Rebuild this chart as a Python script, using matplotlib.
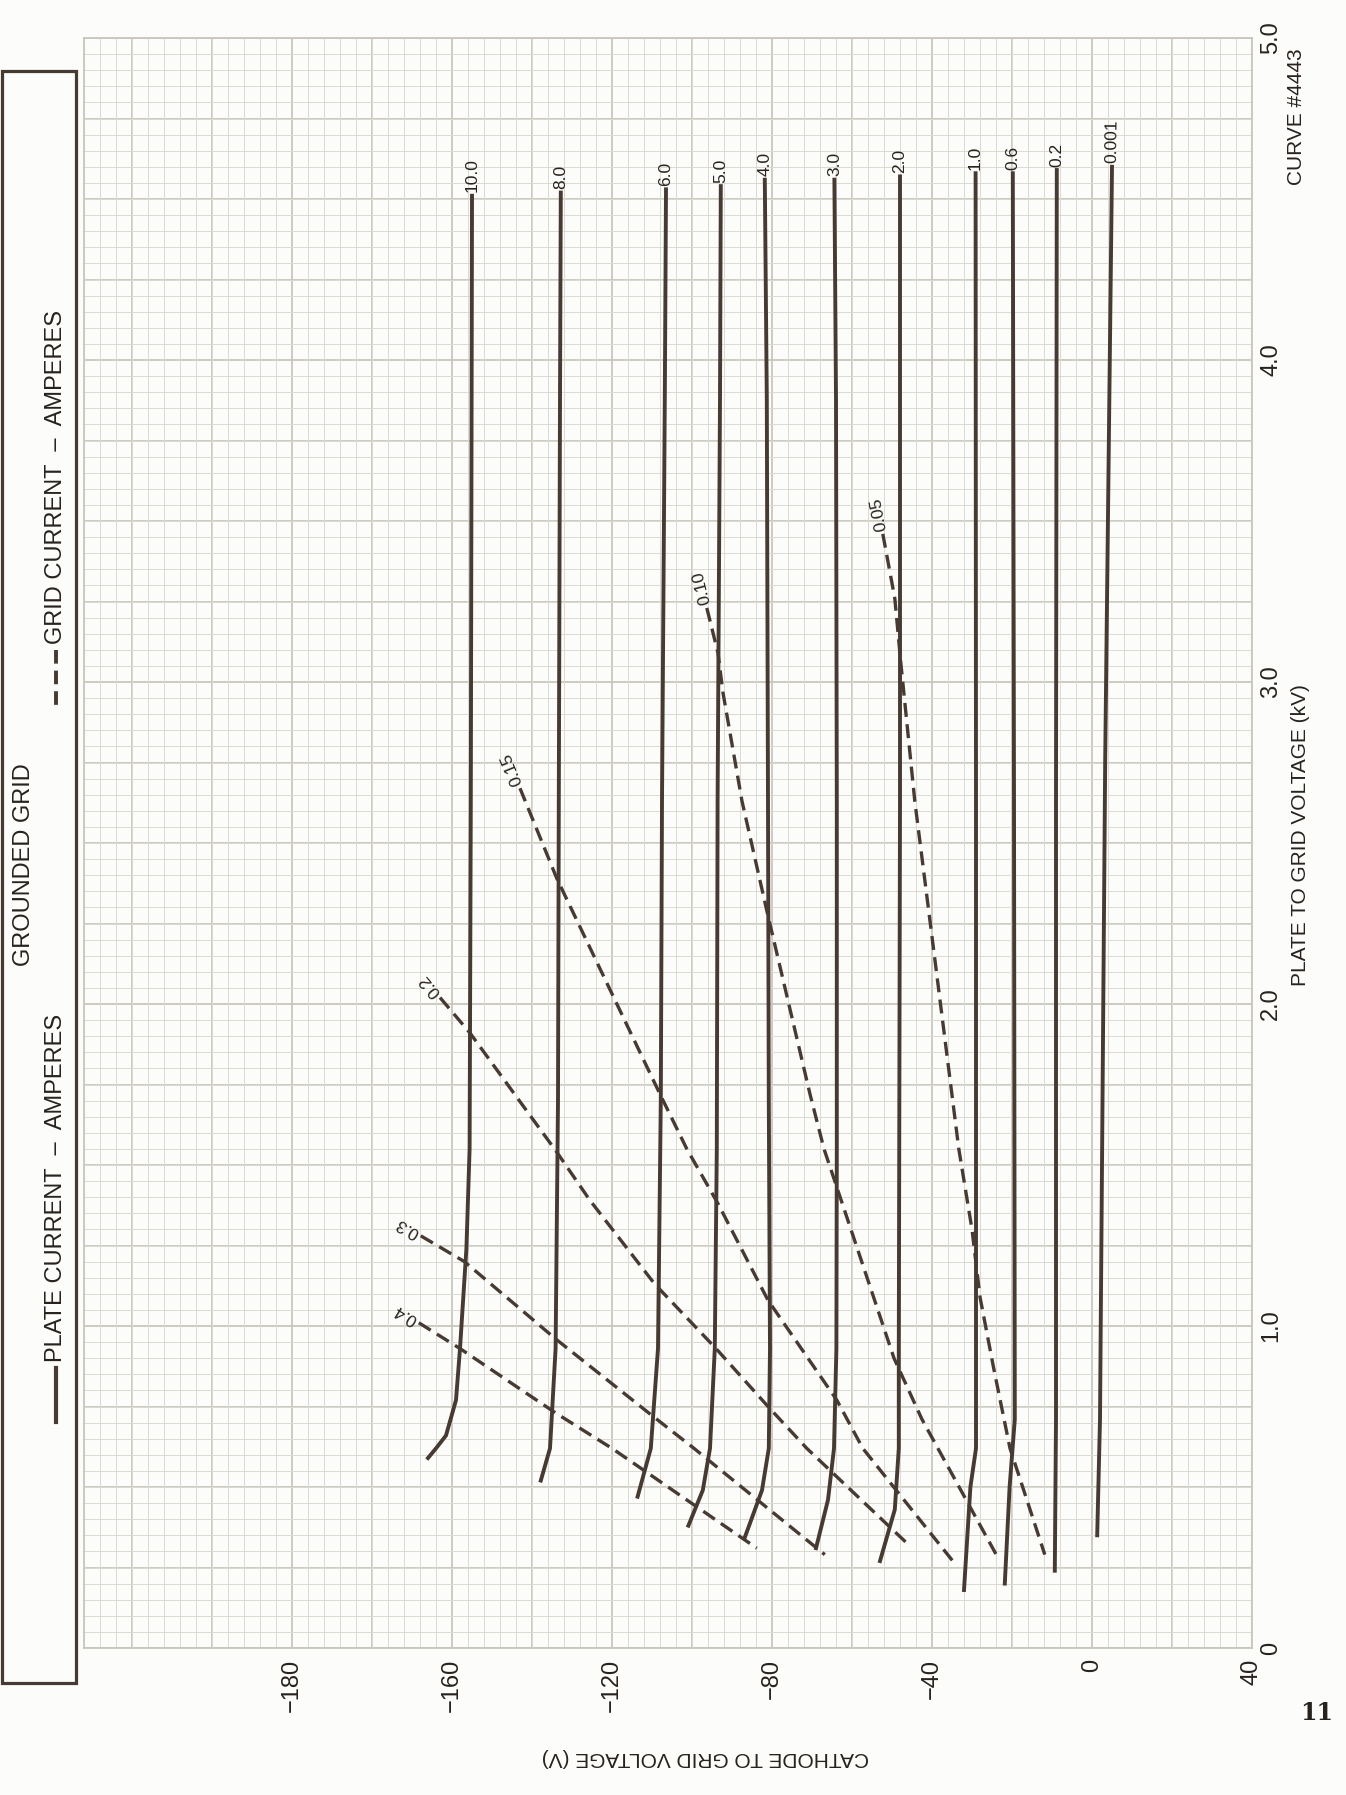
import numpy as np
import matplotlib
matplotlib.use('Agg')
from matplotlib import pyplot as plt
from matplotlib.patches import Rectangle

# plate current curves (amperes): plate to grid kV -> cathode to grid V
plate_labels = ['10.0', '8.0', '6.0', '5.0', '4.0', '3.0', '2.0', '1.0', '0.6', '0.2', '0.001']
plate_v = [
	[-155.0, -155.1, -155.3, -155.6, -156.4, -158.0, -159.0, -161.5, -164.0, -166.0],
	[-132.8, -133.0, -133.3, -133.5, -134.1, -135.5, -137.8],
	[-106.5, -106.8, -107.5, -107.8, -108.5, -110.3, -113.6],
	[-92.8, -93.0, -93.6, -93.8, -94.3, -95.5, -97.3, -100.9],
	[-81.8, -81.3, -81.0, -80.8, -80.5, -80.8, -82.5, -86.9],
	[-64.4, -64.0, -63.8, -63.8, -63.9, -64.5, -66.0, -69.0],
	[-48.0, -48.0, -48.3, -48.3, -49.3, -53.0],
	[-29.1, -29.0, -29.0, -29.0, -30.4, -32.0],
	[-19.8, -19.5, -19.3, -20.6, -21.8],
	[-8.8, -9.0, -9.0, -9.3],
	[5.0, 3.3, 2.0, 1.3],
]
plate_kv = [
	[4.51, 3.88, 2.63, 1.55, 1.24, 0.93, 0.77, 0.66, 0.62, 0.59],
	[4.52, 3.88, 2.63, 1.70, 0.93, 0.62, 0.52],
	[4.53, 3.88, 2.63, 1.70, 0.93, 0.62, 0.47],
	[4.54, 3.88, 2.63, 1.55, 0.93, 0.62, 0.49, 0.38],
	[4.56, 3.88, 2.63, 1.70, 0.93, 0.62, 0.49, 0.34],
	[4.56, 3.88, 2.63, 1.55, 0.93, 0.62, 0.46, 0.31],
	[4.57, 2.63, 0.93, 0.62, 0.43, 0.27],
	[4.58, 2.63, 0.93, 0.62, 0.50, 0.18],
	[4.58, 2.63, 0.71, 0.50, 0.20],
	[4.59, 2.63, 0.71, 0.24],
	[4.60, 2.76, 0.71, 0.35],
]

# grid current curves (amperes)
grid_labels = ['0.4', '0.3', '0.2', '0.15', '0.10', '0.05']
grid_v = [
	[-168.3, -158.0, -134.1, -120.0, -83.8],
	[-167.8, -156.9, -134.1, -109.8, -99.5, -66.8],
	[-163.0, -155.5, -133.8, -125.5, -109.3, -94.0, -81.0, -71.3, -45.8],
	[-143.0, -133.8, -108.0, -101.3, -93.5, -81.0, -63.8, -57.3, -34.8],
	[-96.3, -93.5, -92.3, -87.5, -81.3, -70.5, -67.0, -49.5, -42.5, -23.5],
	[-52.3, -49.3, -47.8, -44.3, -39.3, -33.3, -30.0, -28.0, -24.6, -20.5, -11.8],
]
grid_kv = [
	[1.01, 0.93, 0.73, 0.62, 0.31],
	[1.28, 1.20, 0.96, 0.72, 0.62, 0.29],
	[2.02, 1.91, 1.54, 1.39, 1.13, 0.93, 0.75, 0.62, 0.32],
	[2.67, 2.39, 1.72, 1.55, 1.38, 1.08, 0.77, 0.62, 0.27],
	[3.23, 3.09, 2.97, 2.63, 2.29, 1.72, 1.55, 0.90, 0.71, 0.28],
	[3.46, 3.26, 3.06, 2.63, 2.14, 1.55, 1.30, 1.09, 0.87, 0.62, 0.29],
]

xtick_vals = [-200, -160, -120, -80, -40, 0, 40]
xtick_text = ['\u2212180', '\u2212160', '\u2212120', '\u221280', '\u221240', '0', '40']
ytick_vals = [0, 1, 2, 3, 4, 5]
ytick_text = ['0', '1.0', '2.0', '3.0', '4.0', '5.0']

plt.rcParams['font.family'] = ['Liberation Sans', 'DejaVu Sans']

ink = '#463a32'
txt_c = '#27221e'
paper = '#fcfcfa'
minor_c = '#dbdad2'
major_c = '#c8c6bd'

W, H = 1346, 1795
fig = plt.figure(figsize=(W/100, H/100), dpi=100, facecolor=paper)

# plot area in pixels
L, R, T, B = 84, 1252, 38, 1648
ax = fig.add_axes([L/W, (H-B)/H, (R-L)/W, (B-T)/H])
ax.set_facecolor(paper)
ax.set_xlim(-252, 40)
ax.set_ylim(0, 5)

# graph paper
ax.set_xticks(np.arange(-252, 41, 4), minor=True)
ax.set_yticks(np.arange(0, 5.001, 0.05), minor=True)
ax.grid(which='minor', color=minor_c, lw=0.7, zorder=0)
ax.grid(which='major', visible=False)
ax.vlines(np.arange(-240, 41, 20), 0, 5, color=major_c, lw=1.3, zorder=0.5)
ax.hlines(np.arange(0, 5.001, 0.25), -252, 40, color=major_c, lw=1.3, zorder=0.5)
for s in ax.spines.values():
	s.set_color(major_c)
	s.set_linewidth(1.3)

ax.set_xticks(xtick_vals, labels=xtick_text)
ax.set_yticks(ytick_vals, labels=ytick_text)
ax.yaxis.tick_right()
ax.tick_params(which='both', length=0, colors=txt_c)
ax.tick_params(axis='x', labelrotation=90, pad=8, labelsize=17)
ax.tick_params(axis='y', labelrotation=90, pad=6, labelsize=17)
for t in ax.get_yticklabels():
	t.set_va('center')

ax.set_xlabel('CATHODE TO GRID VOLTAGE (V)', rotation=180, fontsize=15, color=txt_c)
ax.xaxis.set_label_coords((705-L)/(R-L), (B-1758)/(B-T))
ax.xaxis.label.set_va('center')
ax.yaxis.set_label_position('right')
ax.set_ylabel('PLATE TO GRID VOLTAGE (kV)', rotation=90, fontsize=15, color=txt_c)
ax.yaxis.set_label_coords((1300-L)/(R-L), (B-835)/(B-T))
ax.yaxis.label.set_va('center')

def put_label(txt, v, kv):
	p0 = ax.transData.transform((v[0], kv[0]))
	p1 = ax.transData.transform((v[1], kv[1]))
	ang = np.degrees(np.arctan2(p0[1]-p1[1], p0[0]-p1[0]))
	off = 2.5
	ax.annotate(txt, (v[0], kv[0]),
		xytext=(off*np.cos(np.radians(ang)), off*np.sin(np.radians(ang))),
		textcoords='offset points', rotation=ang, rotation_mode='anchor',
		ha='left', va='center', fontsize=12.5, color=txt_c, zorder=5)

for lab, v, kv in zip(plate_labels, plate_v, plate_kv):
	ax.plot(v, kv, color=ink, lw=2.8, solid_joinstyle='round', zorder=3)
	put_label(lab, v, kv)

for lab, v, kv in zip(grid_labels, grid_v, grid_kv):
	ax.plot(v, kv, color=ink, lw=2.4, dashes=(4.2, 2.2), zorder=3)
	put_label(lab, v, kv)

# legend box and page text, pixel coords
ov = fig.add_axes([0, 0, 1, 1])
ov.set_xlim(0, W)
ov.set_ylim(H, 0)
ov.axis('off')
ov.patch.set_alpha(0)
ov.add_patch(Rectangle((2, 71), 74, 1612, fill=False, lw=2.3, ec=ink))
ov.text(24, 865, 'GROUNDED GRID', rotation=90, ha='center', va='center', fontsize=17, color=txt_c)
ov.plot([56, 56], [650, 708], color=ink, lw=2.8, dashes=(3.5, 1.8))
ov.text(56, 644, 'GRID CURRENT  \u2013  AMPERES', rotation=90, ha='center', va='bottom', fontsize=17, color=txt_c)
ov.plot([56, 56], [1368, 1422], color=ink, lw=3)
ov.text(56, 1362, 'PLATE CURRENT  \u2013  AMPERES', rotation=90, ha='center', va='bottom', fontsize=17, color=txt_c)
ov.text(1296, 117, 'CURVE #4443', rotation=90, ha='center', va='center', fontsize=15, color=txt_c)
ov.text(1300, 1713, '11', ha='left', va='center', fontsize=17, fontweight='bold', family='DejaVu Serif', color=txt_c)

fig.savefig('out.png', dpi=100, facecolor=paper)
